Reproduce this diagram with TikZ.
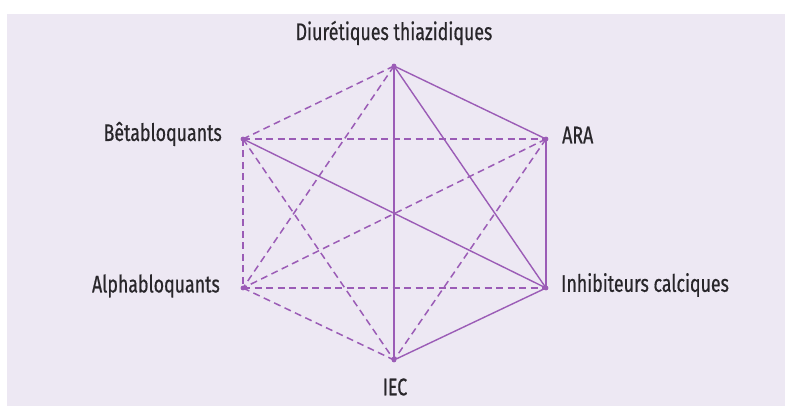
\documentclass[tikz,border=0pt]{standalone}
\usepackage{fontspec}
\setmainfont[FakeStretch=0.74, FakeBold=0.6]{Fira Sans}
\usepackage{xcolor}
\usepackage{tikz}
\usetikzlibrary{positioning}

\definecolor{lilas}{RGB}{155,92,182}
\definecolor{fond}{RGB}{237,232,243}
\definecolor{encre}{RGB}{40,38,42}

\tikzset{
    lien/.style={lilas, line width=1.4pt},
    pointille/.style={lilas, line width=1.5pt, dash pattern=on 7pt off 4.5pt},
    nom/.style={text=encre, inner sep=0pt, font=\fontsize{24}{28}\selectfont}
}

\begin{document}
\begin{tikzpicture}[x=1pt, y=-1pt]
            \path[use as bounding box] (0,0) rectangle (785,406);
            \fill[fond] (7,14) rectangle (785,406);

            \coordinate (diur) at (394,66);
            \coordinate (beta) at (243,139);
            \coordinate (ara) at (546,139);
            \coordinate (alpha) at (243,288);
            \coordinate (inhib) at (546,288);
            \coordinate (iec) at (394,360);

            % dashed links
            \draw[pointille] (diur) -- (beta);
            \draw[pointille] (diur) -- (alpha);
            \draw[pointille] (beta) -- (ara);
            \draw[pointille] (beta) -- (alpha);
            \draw[pointille] (beta) -- (iec);
            \draw[pointille] (ara) -- (alpha);
            \draw[pointille] (ara) -- (iec);
            \draw[pointille] (alpha) -- (inhib);
            \draw[pointille] (alpha) -- (iec);

            % solid links
            \draw[lien] (diur) -- (ara);
            \draw[lien] (diur) -- (iec);
            \draw[lien] (diur) -- (inhib);
            \draw[lien] (beta) -- (inhib);
            \draw[lien, line width=1.1pt] (ara) -- (inhib);
            \draw[lien] (inhib) -- (iec);

            \foreach \p in {diur,beta,ara,alpha,inhib,iec}
                \fill[lilas] (\p) circle (2.4pt);

            \node[nom] (ndiur) at (394,33) {Diurétiques thiazidiques};
            \node[nom, anchor=east] (nbeta) at (222,134) {Bêtabloquants};
            \node[nom, anchor=west] (nara) at (562,135) {ARA};
            \node[nom, anchor=east] (nalpha) at (220,286) {Alphabloquants};
            \node[nom, anchor=west] (ninhib) at (561,285) {Inhibiteurs calciques};
            \node[nom] (niec) at (395,387) {IEC};
\end{tikzpicture}
\end{document}
